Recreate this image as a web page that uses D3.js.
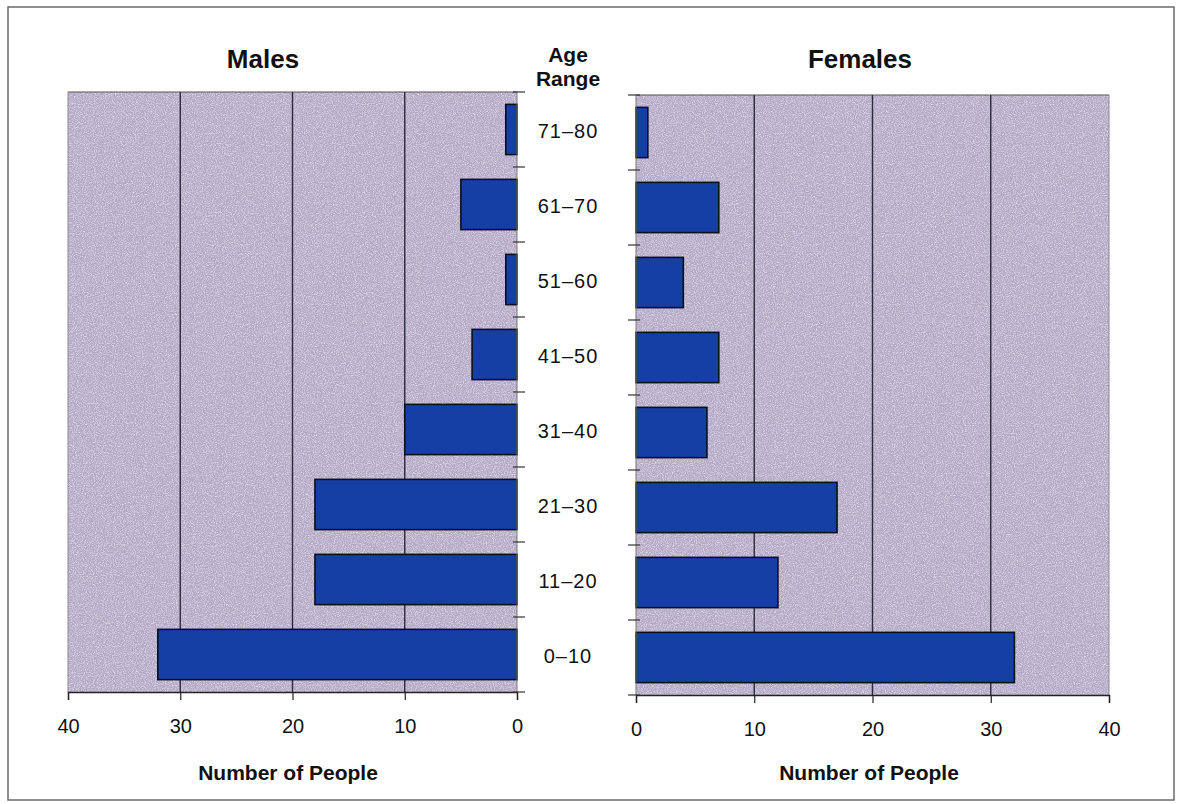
<!DOCTYPE html>
<html>
<head>
<meta charset="utf-8">
<script src="https://cdn.jsdelivr.net/npm/d3@7"></script>
<style>
  html, body { margin: 0; padding: 0; background: #fff; }
  svg { display: block; font-family: "Liberation Sans", Arial, Helvetica, sans-serif; }
</style>
</head>
<body>
<svg id="chart" width="1182" height="804"></svg>
<script>
// Age groups, listed from youngest to oldest
const ageRanges = ["0–10", "11–20", "21–30", "31–40", "41–50", "51–60", "61–70", "71–80"];
const maleCounts = [32, 18, 18, 10, 4, 1, 5, 1];
const femaleCounts = [32, 12, 17, 6, 7, 4, 7, 1];
const countTicks = [0, 10, 20, 30, 40];

const svg = d3.select("#chart");

// grainy fill for the plot backgrounds
const defs = svg.append("defs");
const grain = defs.append("filter").attr("id", "grain")
  .attr("x", 0).attr("y", 0).attr("width", 1).attr("height", 1);
grain.append("feTurbulence").attr("type", "fractalNoise")
  .attr("baseFrequency", 0.9).attr("numOctaves", 2).attr("seed", 4).attr("result", "noise");
grain.append("feColorMatrix").attr("in", "noise").attr("type", "matrix")
  .attr("values", "0 0 0 0 0.78  0 0 0 0 0.74  0 0 0 0 0.84  1.2 1.2 1.2 0 -1.6")
  .attr("result", "speck");
grain.append("feComposite").attr("in", "speck").attr("in2", "SourceGraphic").attr("operator", "atop");

// outer frame
svg.append("rect")
  .attr("x", 8).attr("y", 7).attr("width", 1166).attr("height", 793)
  .attr("fill", "none").attr("stroke", "#6a6a6a").attr("stroke-width", 1.5);

const bgColor = "#b2a7c4";
const barColor = "#163fa6";
const gridColor = "#2a2a3a";

function panel(opts) {
  const { x, y, counts, title, titleX, axisLabelX, side } = opts;
  const g = svg.append("g");
  const [x0, x1] = x.range();
  const left = Math.min(x0, x1), right = Math.max(x0, x1);
  const [top, bottom] = y.range();

  // plot background
  g.append("rect")
    .attr("x", left).attr("y", top)
    .attr("width", right - left).attr("height", bottom - top)
    .attr("fill", bgColor).attr("filter", "url(#grain)");

  // top edge of the plot
  g.append("line")
    .attr("x1", left).attr("x2", right).attr("y1", top).attr("y2", top)
    .attr("stroke", "#555").attr("stroke-width", 1.2);

  // vertical gridlines
  g.selectAll("line.grid")
    .data(countTicks.filter(d => d > 0 && d < 40))
    .join("line").attr("class", "grid")
    .attr("x1", d => x(d)).attr("x2", d => x(d))
    .attr("y1", top).attr("y2", bottom)
    .attr("stroke", gridColor).attr("stroke-width", 1.4);

  // outer value edge
  g.append("line")
    .attr("x1", x(40)).attr("x2", x(40)).attr("y1", top).attr("y2", bottom)
    .attr("stroke", "#8c8496").attr("stroke-width", 1);

  // bars
  g.selectAll("rect.bar")
    .data(ageRanges.map((a, i) => ({ a, v: counts[i] })))
    .join("rect").attr("class", "bar")
    .attr("x", d => Math.min(x(0), x(d.v)))
    .attr("width", d => Math.abs(x(d.v) - x(0)))
    .attr("y", d => y(d.a))
    .attr("height", y.bandwidth())
    .attr("fill", barColor)
    .attr("stroke", "#0a0f1e").attr("stroke-width", 1.6);

  // value axis along the bottom
  const axis = d3.axisBottom(x).tickValues(countTicks).tickSize(8).tickPadding(19)
    .tickFormat(d3.format("d"));
  const ax = g.append("g").attr("transform", `translate(0,${bottom})`).call(axis);
  ax.select(".domain").attr("stroke", "#222").attr("stroke-width", 1.4);
  ax.selectAll(".tick line").attr("stroke", "#222").attr("stroke-width", 1.2);
  ax.selectAll(".tick text")
    .attr("fill", "#111").attr("font-size", 20)
    .attr("font-family", "'Liberation Sans', Arial, sans-serif");

  // category axis line next to the centre labels
  g.append("line")
    .attr("x1", x(0)).attr("x2", x(0)).attr("y1", top).attr("y2", bottom)
    .attr("stroke", "#777").attr("stroke-width", 1);
  // tick marks between the bands
  const step = y.step();
  const bounds = d3.range(ageRanges.length + 1).map(i => top + i * step);
  const dir = side === "right" ? 1 : -1;
  g.selectAll("line.cattick").data(bounds).join("line").attr("class", "cattick")
    .attr("x1", x(0) - dir * 4).attr("x2", x(0) + dir * 8)
    .attr("y1", d => d).attr("y2", d => d)
    .attr("stroke", "#333").attr("stroke-width", 1.2);

  // titles
  svg.append("text")
    .attr("x", titleX).attr("y", 68)
    .attr("text-anchor", "middle").attr("font-size", 26).attr("font-weight", "bold")
    .attr("fill", "#111").text(title);
  svg.append("text")
    .attr("x", axisLabelX).attr("y", 780)
    .attr("text-anchor", "middle").attr("font-size", 21).attr("font-weight", "bold")
    .attr("fill", "#111").text("Number of People");
}

// Males grow to the left, Females to the right
const yMale = d3.scaleBand().domain(ageRanges.slice().reverse())
  .range([92, 692]).paddingInner(0.33).paddingOuter(0.165);
const yFemale = d3.scaleBand().domain(ageRanges.slice().reverse())
  .range([95, 695]).paddingInner(0.33).paddingOuter(0.165);
const xMale = d3.scaleLinear().domain([0, 40]).range([517, 68]);
const xFemale = d3.scaleLinear().domain([0, 40]).range([636, 1109]);

panel({ x: xMale, y: yMale, counts: maleCounts, title: "Males",
        titleX: 263, axisLabelX: 288, side: "right" });
panel({ x: xFemale, y: yFemale, counts: femaleCounts, title: "Females",
        titleX: 860, axisLabelX: 869, side: "left" });

// centre column: heading and age range labels
const midX = 568;
svg.append("text").attr("x", midX).attr("y", 62)
  .attr("text-anchor", "middle").attr("font-size", 21).attr("font-weight", "bold")
  .attr("fill", "#111").text("Age");
svg.append("text").attr("x", midX).attr("y", 86)
  .attr("text-anchor", "middle").attr("font-size", 21).attr("font-weight", "bold")
  .attr("fill", "#111").text("Range");

svg.selectAll("text.age")
  .data(ageRanges)
  .join("text").attr("class", "age")
  .attr("x", midX)
  .attr("y", d => (yMale(d) + yFemale(d)) / 2 + yMale.bandwidth() / 2)
  .attr("dy", "0.35em")
  .attr("text-anchor", "middle").attr("font-size", 20).attr("letter-spacing", 1)
  .attr("fill", "#111").text(d => d);
</script>
</body>
</html>
